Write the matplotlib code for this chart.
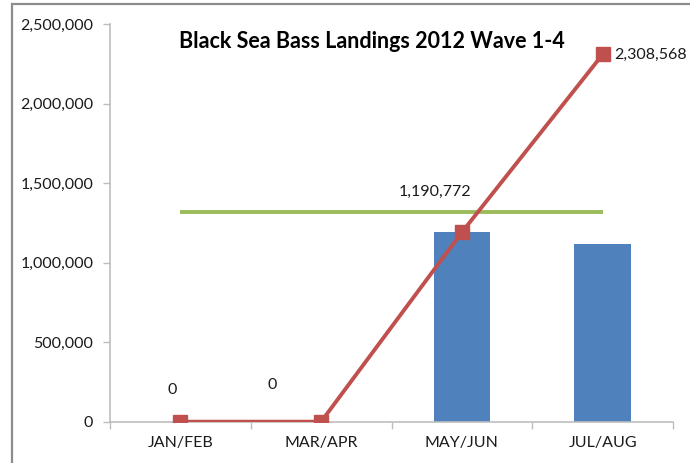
import matplotlib
matplotlib.use("Agg")
import matplotlib.pyplot as plt
from matplotlib.patches import Rectangle
from matplotlib.ticker import FuncFormatter

# Landings by wave (lbs)
waves = ["JAN/FEB", "MAR/APR", "MAY/JUN", "JUL/AUG"]
wave_landings = [0, 0, 1190772, 1117796]
cumulative_landings = [0, 0, 1190772, 2308568]
harvest_limit = [1320000, 1320000, 1320000, 1320000]
yticks = [0, 500000, 1000000, 1500000, 2000000, 2500000]

BLUE = "#4F81BD"
RED = "#C0504D"
GREEN = "#9BBB59"
AXIS_GRAY = "#BDBDBD"
TEXT = "#1a1a1a"
FS = 11.5

plt.rcParams["font.family"] = ["Lato", "DejaVu Sans"]

W, H = 690, 463
fig = plt.figure(figsize=(W / 100, H / 100), dpi=100)
fig.patch.set_facecolor("white")

# chart frame
fig.patches.append(Rectangle((12 / W, -0.1), 1.2, 1 - 4 / H + 0.1,
                             transform=fig.transFigure, fill=False,
                             edgecolor="#8C8C8C", linewidth=1.6, clip_on=False))

ax = fig.add_axes([110 / W, 1 - 421.7 / H, (673 - 110) / W, (421.7 - 24) / H])
x = list(range(len(waves)))

ax.bar(x, wave_landings, width=0.4, color=BLUE, zorder=2)
ax.plot(x, harvest_limit, color=GREEN, linewidth=2.8, zorder=3,
        solid_capstyle="butt")
ax.plot(x, cumulative_landings, color=RED, linewidth=2.8, marker="s",
        markersize=10.5, markerfacecolor=RED, markeredgecolor=RED, zorder=4)

# value labels on the cumulative line
label_offsets = [(-8, 32, "center"), (-49, 37, "center"),
                 (-27, 40, "center"), (12, 0, "left")]
for xi, v, (dx, dy, ha) in zip(x, cumulative_landings, label_offsets):
    ax.annotate(f"{v:,}", (xi, v), xytext=(dx, dy), textcoords="offset pixels",
                ha=ha, va="center", fontsize=FS, color=TEXT,
                annotation_clip=False)

ax.set_xlim(-0.5, 3.5)
ax.set_ylim(0, 2500000)
ax.set_yticks(yticks)
ax.yaxis.set_major_formatter(FuncFormatter(lambda v, p: f"{int(v):,}"))
ax.set_xticks([-0.5, 0.5, 1.5, 2.5, 3.5])
ax.set_xticklabels([])
ax.set_xticks(x, minor=True)
ax.set_xticklabels(waves, minor=True)
ax.tick_params(axis="x", which="minor", length=0, pad=10, labelsize=FS,
               labelcolor=TEXT)
ax.tick_params(axis="x", which="major", length=5, color=AXIS_GRAY, width=1)
ax.tick_params(axis="y", length=5, color=AXIS_GRAY, width=1, pad=7,
               labelsize=FS, labelcolor=TEXT)

for side in ["top", "right"]:
    ax.spines[side].set_visible(False)
for side in ["left", "bottom"]:
    ax.spines[side].set_color(AXIS_GRAY)
    ax.spines[side].set_linewidth(1.2)

fig.text(371.5 / W, 1 - 42 / H, "Black Sea Bass Landings 2012 Wave 1-4",
         ha="center", va="center", fontsize=15.5, fontweight="bold", color="black")

fig.savefig("out.png", dpi=100)
